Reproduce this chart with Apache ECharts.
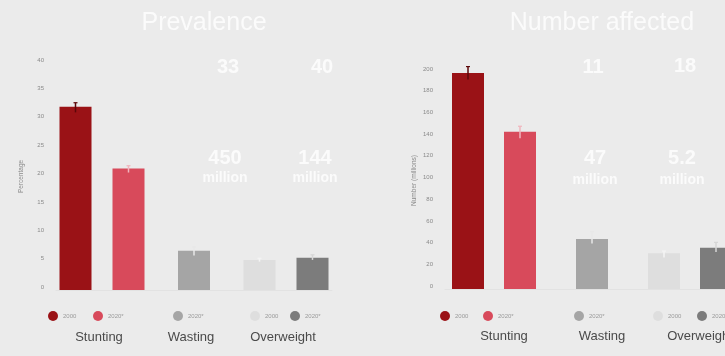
<!DOCTYPE html>
<html>
<head>
<meta charset="utf-8">
<script src="https://cdn.jsdelivr.net/npm/echarts@6/dist/echarts.min.js"></script>
<style>
html,body{margin:0;padding:0;background:#ebebeb;overflow:hidden;width:725px;height:356px;}
#c{width:760px;height:356px;}
</style>
</head>
<body>
<div id="c"></div>
<script>
// ---- data ----
const CATEGORIES = ['Stunting', 'Wasting', 'Overweight'];
const PREV_2000 = [32.3, null, 5.3];
const PREV_2020 = [21.4, null, 5.7];
const PREV_WASTING = [null, 6.9, null];
const PREV_2000_ERR_LO = [31.3, null, 5.0];
const PREV_2000_ERR_HI = [33.0, null, 5.6];
const PREV_2020_ERR_LO = [20.7, null, 5.3];
const PREV_2020_ERR_HI = [21.9, null, 6.2];
const PREV_WASTING_ERR_LO = [null, 6.1, null];
const PREV_WASTING_ERR_HI = [null, 7.6, null];

const NUM_2000 = [199, null, 33];
const NUM_2020 = [145, null, 38];
const NUM_WASTING = [null, 46, null];
const NUM_2000_ERR_LO = [193, null, 29];
const NUM_2000_ERR_HI = [205, null, 35];
const NUM_2020_ERR_LO = [139, null, 34];
const NUM_2020_ERR_HI = [150, null, 43];
const NUM_WASTING_ERR_LO = [null, 42, null];
const NUM_WASTING_ERR_HI = [null, 53, null];

const PREV_AXIS = {min: 0, max: 40, interval: 5, name: 'Percentage'};
const NUM_AXIS = {min: 0, max: 200, interval: 20, name: 'Number (millions)'};

const LEGEND_LABELS = {'2000': '2000', '2020*': '2020*', 'Wasting 2020*': '2020*'};

// ---- styles ----
const COL_2000 = ['#9a1216', null, '#dedede'];
const COL_2020 = ['#d84a5b', null, '#7c7c7c'];
const COL_W = [null, '#a5a5a5', null];
const ERR_2000 = ['#5c0709', null, '#f4f4f4'];
const ERR_2020 = ['#f0b6be', null, '#d6d6d6'];
const ERR_W = [null, '#e8e8e8', null];
const BAR_W = 32;

function barData(vals, cols) {
  return vals.map((v, i) => v == null ? '-' : {value: v, itemStyle: {color: cols[i]}});
}
function errData(lo, hi) {
  const out = [];
  lo.forEach((v, i) => { if (v != null) out.push([i, v, hi[i]]); });
  return out;
}
function errSeries(xi, yi, lo, hi, cols, offset) {
  return {
    type: 'custom', xAxisIndex: xi, yAxisIndex: yi, z: 5, silent: true,
    data: errData(lo, hi),
    renderItem: function (params, api) {
      const c = api.value(0);
      const a = api.coord([c, api.value(1)]);
      const b = api.coord([c, api.value(2)]);
      const x = a[0] + offset;
      const col = cols[c];
      return {type: 'group', children: [
        {type: 'line', shape: {x1: x, y1: a[1], x2: x, y2: b[1]}, style: {stroke: col, lineWidth: 1.5}},
        {type: 'line', shape: {x1: x - 2, y1: b[1], x2: x + 2, y2: b[1]}, style: {stroke: col, lineWidth: 1.2}}
      ]};
    }
  };
}
function catAxis(grid, show, shiftPad) {
  return {
    type: 'category', gridIndex: grid, data: CATEGORIES, show: show,
    axisLine: {show: true, lineStyle: {color: '#e2e2e2'}},
    axisTick: {show: false},
    axisLabel: {margin: 41, fontSize: 13, color: '#4a4a4a', fontFamily: 'Liberation Sans, Arial, sans-serif', padding: shiftPad}
  };
}
function valAxis(grid, ax, gap) {
  return {
    type: 'value', gridIndex: grid, min: ax.min, max: ax.max, interval: ax.interval,
    name: ax.name, nameLocation: 'middle', nameGap: gap, nameRotate: 90,
    nameTextStyle: {fontSize: 6.5, color: '#8a8a8a'},
    axisLine: {show: false}, axisTick: {show: false}, splitLine: {show: false},
    axisLabel: {fontSize: 6, color: '#8a8a8a', margin: 12, verticalAlign: 'bottom'}
  };
}
function legendItem(name, color, left) {
  return {
    data: [{name: name, itemStyle: {color: color}}],
    left: left, top: 306, icon: 'circle', itemWidth: 10, itemHeight: 10,
    selectedMode: false, formatter: LEGEND_LABELS[name],
    textStyle: {fontSize: 6, color: '#9a9a9a', fontFamily: 'Liberation Sans, Arial, sans-serif'}
  };
}
function bigText(x, y, t, size) {
  return {type: 'text', x: x, y: y, silent: true,
    style: {text: t, fill: '#fbfbfb', font: 'bold ' + size + 'px Liberation Sans, Arial, sans-serif', textAlign: 'center', textVerticalAlign: 'middle'}};
}

const GAP_L = 21, GAP_R = 20;
const chart = echarts.init(document.getElementById('c'));
chart.setOption({
  backgroundColor: '#ebebeb',
  animation: false,
  grid: [
    {left: 56, width: 276, top: 63, height: 227},
    {left: 445, width: 294, top: 72, height: 217}
  ],
  xAxis: [
    catAxis(0, true, [0, 6, 0, 0]), catAxis(0, false),
    catAxis(1, true, [0, 0, 0, 20]), catAxis(1, false)
  ],
  yAxis: [valAxis(0, PREV_AXIS, 31), valAxis(1, NUM_AXIS, 27)],
  legend: [
    legendItem('2000', COL_2000[0], 43), legendItem('2020*', COL_2020[0], 88),
    legendItem('Wasting 2020*', COL_W[1], 168),
    legendItem('2000', COL_2000[2], 245), legendItem('2020*', COL_2020[2], 285),
    legendItem('2000', COL_2000[0], 435), legendItem('2020*', COL_2020[0], 478),
    legendItem('Wasting 2020*', COL_W[1], 569),
    legendItem('2000', COL_2000[2], 648), legendItem('2020*', COL_2020[2], 692)
  ],
  graphic: [
    {type: 'text', x: 204, y: 23, silent: true, style: {text: 'Prevalence', fill: '#fbfbfb', font: '25px Liberation Sans, Arial, sans-serif', textAlign: 'center', textVerticalAlign: 'middle'}},
    {type: 'text', x: 602, y: 23, silent: true, style: {text: 'Number affected', fill: '#fbfbfb', font: '25px Liberation Sans, Arial, sans-serif', textAlign: 'center', textVerticalAlign: 'middle'}},
    bigText(228, 67, '33', 20), bigText(322, 67, '40', 20),
    bigText(225, 158, '450', 20), bigText(225, 178, 'million', 14),
    bigText(315, 158, '144', 20), bigText(315, 178, 'million', 14),
    bigText(593, 67, '11', 20), bigText(685, 66, '18', 20),
    bigText(595, 158, '47', 20), bigText(595, 180, 'million', 14),
    bigText(682, 158, '5.2', 20), bigText(682, 180, 'million', 14)
  ],
  series: [
    {name: '2000', type: 'bar', xAxisIndex: 0, yAxisIndex: 0, barWidth: BAR_W, barGap: (GAP_L / BAR_W * 100) + '%', data: barData(PREV_2000, COL_2000)},
    {name: '2020*', type: 'bar', xAxisIndex: 0, yAxisIndex: 0, barWidth: BAR_W, barGap: (GAP_L / BAR_W * 100) + '%', data: barData(PREV_2020, COL_2020)},
    {name: 'Wasting 2020*', type: 'bar', xAxisIndex: 1, yAxisIndex: 0, barWidth: BAR_W, data: barData(PREV_WASTING, COL_W)},
    errSeries(0, 0, PREV_2000_ERR_LO, PREV_2000_ERR_HI, ERR_2000, -(BAR_W + GAP_L) / 2),
    errSeries(0, 0, PREV_2020_ERR_LO, PREV_2020_ERR_HI, ERR_2020, (BAR_W + GAP_L) / 2),
    errSeries(1, 0, PREV_WASTING_ERR_LO, PREV_WASTING_ERR_HI, ERR_W, 0),

    {name: '2000', type: 'bar', xAxisIndex: 2, yAxisIndex: 1, barWidth: BAR_W, barGap: (GAP_R / BAR_W * 100) + '%', data: barData(NUM_2000, COL_2000)},
    {name: '2020*', type: 'bar', xAxisIndex: 2, yAxisIndex: 1, barWidth: BAR_W, barGap: (GAP_R / BAR_W * 100) + '%', data: barData(NUM_2020, COL_2020)},
    {name: 'Wasting 2020*', type: 'bar', xAxisIndex: 3, yAxisIndex: 1, barWidth: BAR_W, data: barData(NUM_WASTING, COL_W)},
    errSeries(2, 1, NUM_2000_ERR_LO, NUM_2000_ERR_HI, ERR_2000, -(BAR_W + GAP_R) / 2),
    errSeries(2, 1, NUM_2020_ERR_LO, NUM_2020_ERR_HI, ERR_2020, (BAR_W + GAP_R) / 2),
    errSeries(3, 1, NUM_WASTING_ERR_LO, NUM_WASTING_ERR_HI, ERR_W, 0)
  ]
});
</script>
</body>
</html>
